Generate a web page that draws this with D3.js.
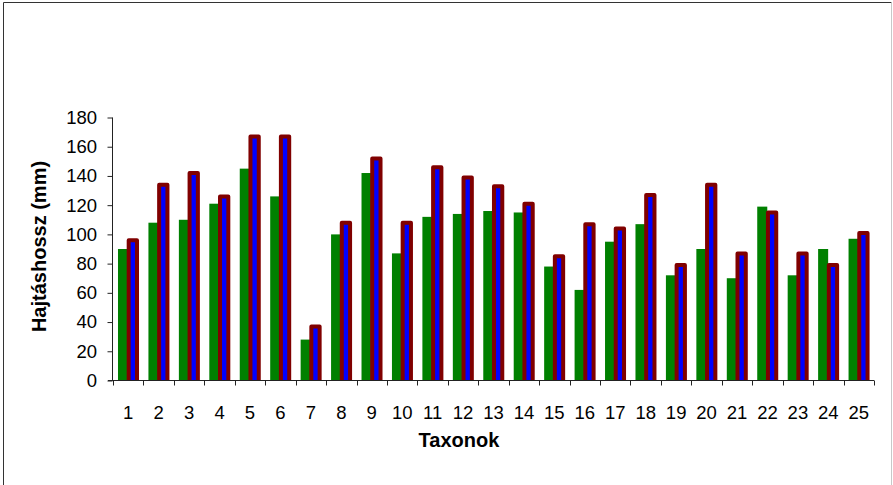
<!DOCTYPE html>
<html>
<head>
<meta charset="utf-8">
<script src="https://cdn.jsdelivr.net/npm/d3@7"></script>
<style>
  html, body { margin: 0; padding: 0; background: #fff; }
  svg { display: block; font-family: "Liberation Sans", Arial, sans-serif; }
</style>
</head>
<body>
<svg id="chart" width="893" height="485"></svg>
<script>
// Taxa numbered 1–25
const categories = ["1","2","3","4","5","6","7","8","9","10","11","12","13","14","15","16","17","18","19","20","21","22","23","24","25"];
// Shoot length (mm), first series (green)
const seriesA = [90,108,110,121,145,126,28,100,142,87,112,114,116,115,78,62,95,107,72,90,70,119,72,90,97];
// Shoot length (mm), second series (blue with dark red outline)
const seriesB = [96,134,142,126,167,167,37,108,152,108,146,139,133,121,85,107,104,127,79,134,87,115,87,79,101];
const yTicks = [0,20,40,60,80,100,120,140,160,180];
const xTitle = "Taxonok";
const yTitle = "Hajtáshossz (mm)";

const svg = d3.select("#chart");

// Outer chart frame
svg.append("line").attr("x1", 3.5).attr("x2", 3.5).attr("y1", 2.5).attr("y2", 485).attr("stroke", "#333").attr("stroke-width", 1);
svg.append("line").attr("x1", 3.5).attr("x2", 891.5).attr("y1", 2.5).attr("y2", 2.5).attr("stroke", "#333").attr("stroke-width", 1);
svg.append("line").attr("x1", 891.5).attr("x2", 891.5).attr("y1", 2.5).attr("y2", 485).attr("stroke", "#c8c8c8").attr("stroke-width", 1);

const plot = { left: 113, right: 874, top: 117.5, bottom: 380.5 };

const x = d3.scaleBand().domain(categories).range([plot.left, plot.right]).padding(0);
const y = d3.scaleLinear().domain([0, 180]).range([plot.bottom, plot.top]);
const bw = x.bandwidth();

svg.append("defs").append("clipPath").attr("id", "plotClip")
  .append("rect").attr("x", plot.left).attr("y", 0)
  .attr("width", plot.right - plot.left).attr("height", plot.bottom);

const bars = svg.append("g").attr("clip-path", "url(#plotClip)");

// Green bars
bars.selectAll("rect.a").data(seriesA).join("rect")
  .attr("class", "a")
  .attr("x", (d, i) => x(categories[i]) + bw * 0.164)
  .attr("width", bw * 0.33)
  .attr("y", d => y(d))
  .attr("height", d => y(0) - y(d))
  .attr("fill", "#008000");

// Blue bars with thick dark red outline
const sw = 4;
bars.selectAll("rect.b").data(seriesB).join("rect")
  .attr("class", "b")
  .attr("x", (d, i) => x(categories[i]) + bw * 0.45 + sw / 2)
  .attr("width", bw * 0.404 - sw)
  .attr("y", d => y(d))
  .attr("height", d => y(0) - y(d) + sw)
  .attr("fill", "#0000ff")
  .attr("stroke", "#800000")
  .attr("stroke-width", sw)
  .attr("stroke-linejoin", "round");

// Y axis
const yAxis = svg.append("g")
  .attr("transform", `translate(${plot.left},0)`)
  .call(d3.axisLeft(y).tickValues(yTicks).tickSize(5).tickPadding(11).tickFormat(d3.format("d")));
yAxis.select(".domain").attr("stroke", "#222").attr("d", `M-0.5,${plot.bottom}V${plot.top}`);
yAxis.selectAll(".tick line").attr("stroke", "#222").attr("transform", "translate(-0.5,0)");
yAxis.selectAll(".tick text").attr("font-size", "18.5px").attr("fill", "#000")
  .attr("font-family", "Liberation Sans, Arial, sans-serif");

// X axis with ticks at category boundaries
const xAxis = svg.append("g").attr("transform", `translate(0,${plot.bottom})`);
xAxis.append("line").attr("x1", plot.left - 5).attr("x2", plot.right).attr("y1", 0).attr("y2", 0)
  .attr("stroke", "#222");
const bounds = categories.map(c => x(c)).concat([plot.right]);
xAxis.selectAll("line.tk").data(bounds).join("line")
  .attr("class", "tk")
  .attr("x1", d => Math.round(d) + 0.5).attr("x2", d => Math.round(d) + 0.5)
  .attr("y1", 0).attr("y2", 5).attr("stroke", "#222");
xAxis.selectAll("text").data(categories).join("text")
  .attr("x", d => x(d) + bw / 2)
  .attr("y", 38)
  .attr("text-anchor", "middle")
  .attr("font-size", "18.5px")
  .attr("fill", "#000")
  .text(d => d);

// Axis titles
svg.append("text")
  .attr("x", 459).attr("y", 446.5)
  .attr("text-anchor", "middle")
  .attr("font-size", "20px").attr("font-weight", "bold")
  .text(xTitle);

svg.append("text")
  .attr("transform", "translate(46,246.5) rotate(-90)")
  .attr("text-anchor", "middle")
  .attr("font-size", "20px").attr("font-weight", "bold")
  .text(yTitle);
</script>
</body>
</html>
